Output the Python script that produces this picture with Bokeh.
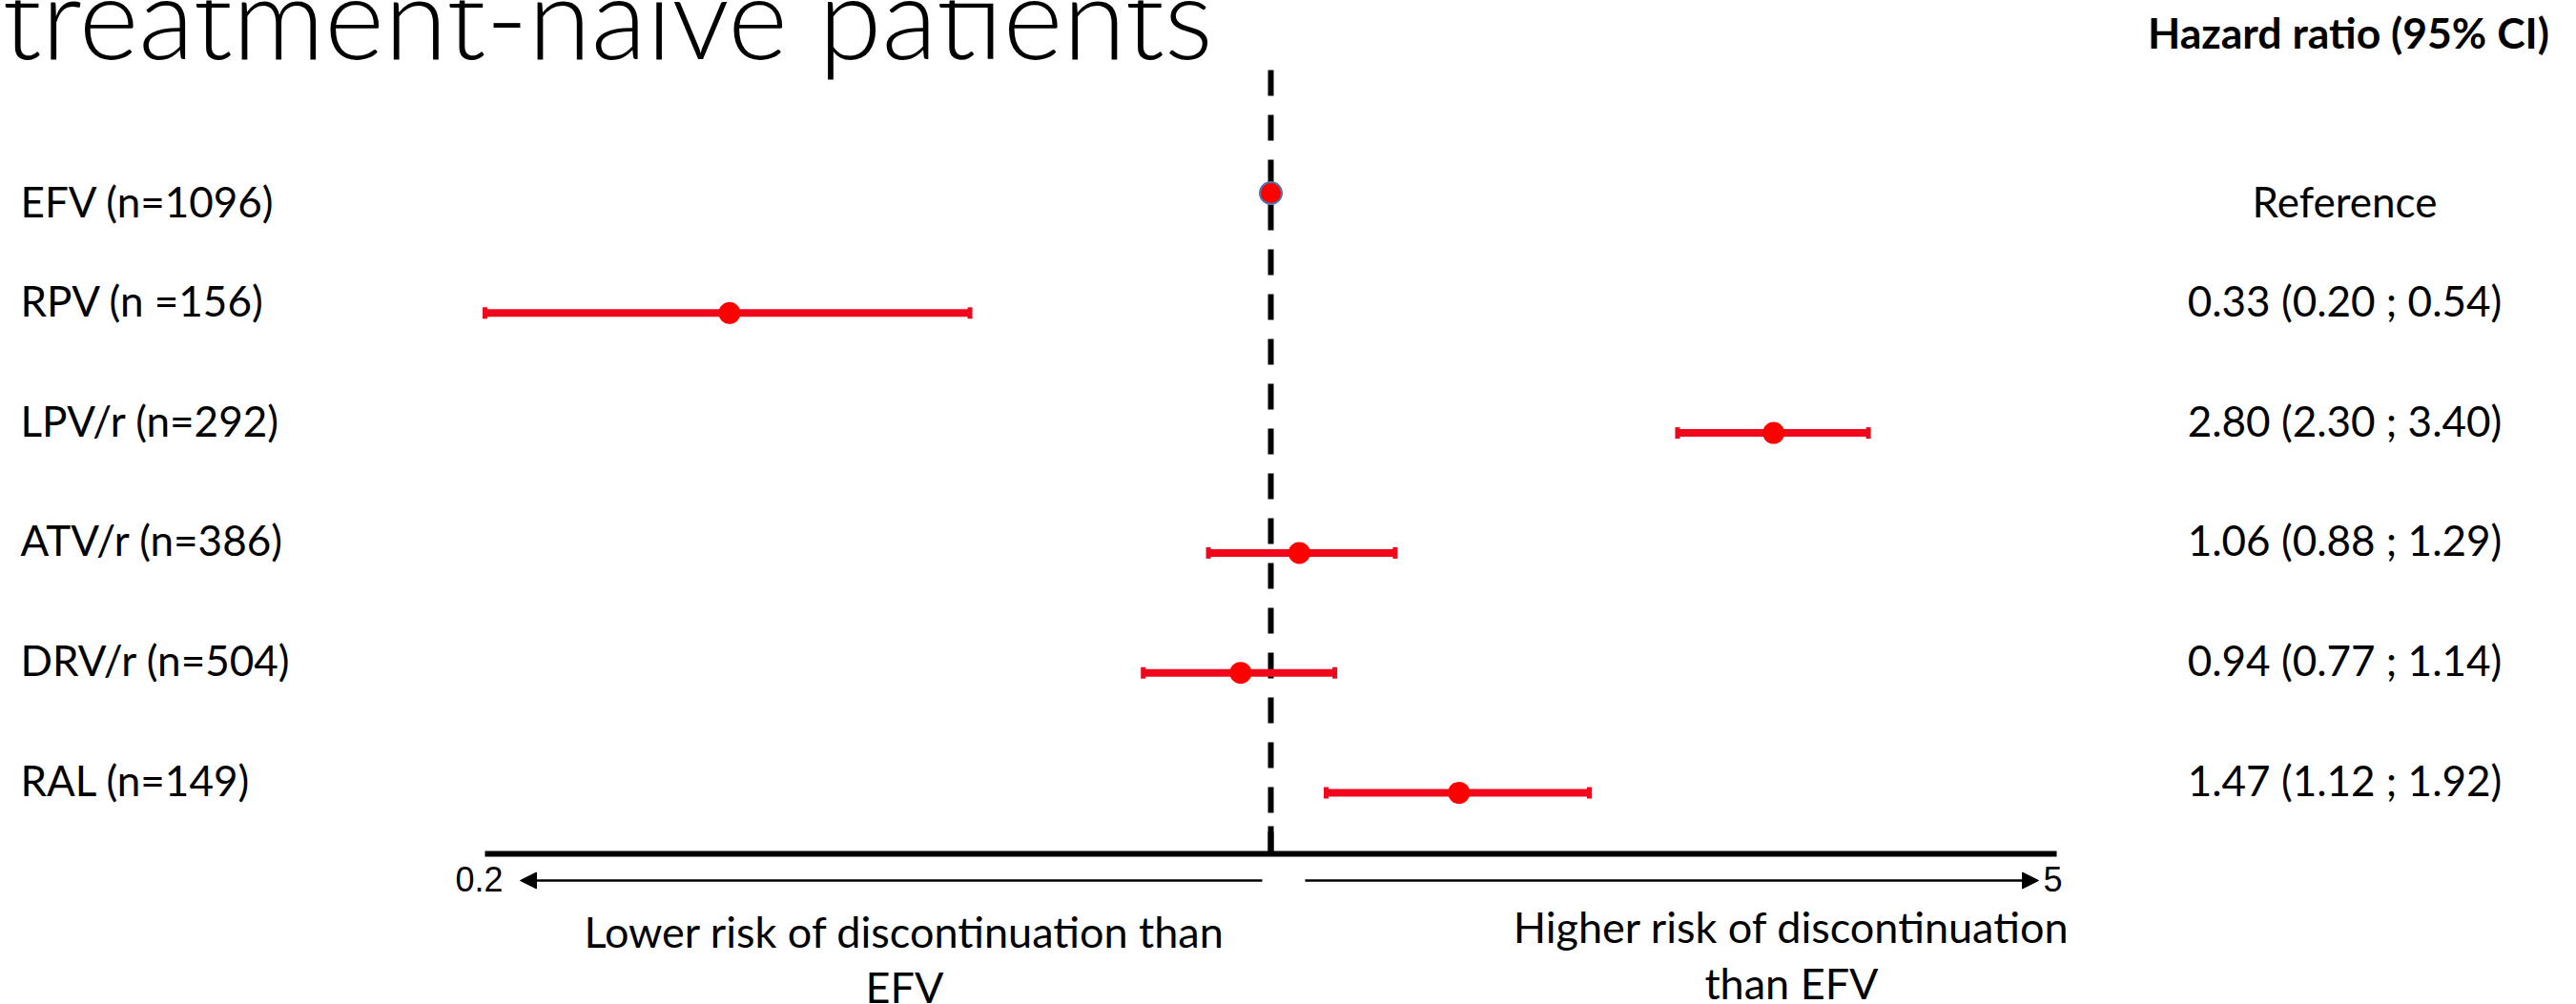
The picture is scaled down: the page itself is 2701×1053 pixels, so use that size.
import math
from bokeh.plotting import figure
from bokeh.models import Range1d, Arrow, NormalHead
from bokeh.core.properties import value
from bokeh.embed import file_html
from bokeh.resources import INLINE

# ---------------- data ----------------
labels = ["EFV (n=1096)", "RPV (n =156)", "LPV/r (n=292)", "ATV/r (n=386)", "DRV/r (n=504)", "RAL (n=149)"]
hr = [1.00, 0.33, 2.80, 1.06, 0.94, 1.47]
ci_low = [None, 0.20, 2.30, 0.88, 0.77, 1.12]
ci_high = [None, 0.54, 3.40, 1.29, 1.14, 1.92]
axis_ends = [0.2, 5]
axis_end_labels = ["0.2", "5"]
title_text = "treatment-naive patients"
header_text = "Hazard ratio (95% CI)"
lower_text = ["Lower risk of discontinuation than", "EFV"]
higher_text = ["Higher risk of discontinuation", "than EFV"]
reference_text = "Reference"

# ---------------- layout (screen pixels) ----------------
W, H = 2701, 1053
OFF = 0
AX_L, AX_R = 508, 2156          # screen x of 0.2 and 5
ROW0, ROW_STEP = 202, 125.8     # screen y of first row, spacing
TXT_SHIFT = 0.42                # empirical baseline correction (em)

LLO, LHI = math.log10(axis_ends[0]), math.log10(axis_ends[1])


def to_x(sx):
    c = sx - OFF
    return 10 ** (LLO + (c - (AX_L - OFF)) * (LHI - LLO) / (AX_R - AX_L))


def to_y(sy):
    return (sy - ROW0) / ROW_STEP


def base_y(sy, size):
    """data y for a text whose alphabetic baseline should sit at screen y sy"""
    return to_y(sy - TXT_SHIFT * size)


rows = list(range(len(labels)))

p = figure(width=W, height=H, x_axis_type="log",
           x_range=Range1d(to_x(OFF), to_x(OFF + W)),
           y_range=Range1d(to_y(OFF + H), to_y(OFF)),
           output_backend="svg", toolbar_location=None,
           x_axis_location=None, y_axis_location=None,
           min_border=0, outline_line_color=None,
           background_fill_color="white", border_fill_color="white")
p.grid.visible = False

BLACK = "#000000"
BAR_RED = "#F0071C"
DOT_RED = "#FF0000"
LABEL_FONT = value("Lato")

# reference dashed line at HR = 1
p.segment(x0=[1], y0=[to_y(73)], x1=[1], y1=[to_y(895)],
          line_width=6, line_color=BLACK, line_dash="27 20")

# confidence intervals
ci_rows = [r for r in rows if ci_low[r] is not None]
lo = [ci_low[r] for r in ci_rows]
hi = [ci_high[r] for r in ci_rows]
p.segment(x0=lo, y0=ci_rows, x1=hi, y1=ci_rows, line_width=8, line_color=BAR_RED)
p.rect(x=lo + hi, y=ci_rows + ci_rows, width=5, height=12,
       width_units="screen", height_units="screen",
       fill_color=BAR_RED, line_color=None)

# points
p.scatter(x=[hr[r] for r in ci_rows], y=ci_rows, size=23,
          fill_color=DOT_RED, line_color=None)
ref_rows = [r for r in rows if ci_low[r] is None]
p.scatter(x=[hr[r] for r in ref_rows], y=ref_rows, size=23,
          fill_color=DOT_RED, line_color="#4A78B0", line_width=2)

# axis line and centre tick
p.segment(x0=[axis_ends[0]], y0=[to_y(895)], x1=[axis_ends[1]], y1=[to_y(895)],
          line_width=6, line_color=BLACK)
p.segment(x0=[1], y0=[to_y(866)], x1=[1], y1=[to_y(895)],
          line_width=6, line_color=BLACK)

# direction arrows
p.add_layout(Arrow(end=NormalHead(size=17, fill_color=BLACK, line_color=BLACK),
                   x_start=to_x(1323), y_start=to_y(923),
                   x_end=to_x(545), y_end=to_y(923),
                   line_width=2.5, line_color=BLACK))
p.add_layout(Arrow(end=NormalHead(size=17, fill_color=BLACK, line_color=BLACK),
                   x_start=to_x(1368), y_start=to_y(923),
                   x_end=to_x(2137), y_end=to_y(923),
                   line_width=2.5, line_color=BLACK))

# axis end labels
p.text(x=[to_x(502), to_x(2152)], y=[base_y(937, 36)] * 2, text=axis_end_labels,
       text_font=value("Liberation Sans"), text_font_size="36px",
       text_align="center", text_baseline="alphabetic", text_color=BLACK)

# title (partially cut at top)
p.text(x=[to_x(2)], y=[base_y(66, 120)], text=[title_text],
       text_font=value("Lato Light"), text_font_size="120px",
       text_align="left", text_baseline="alphabetic", text_color=BLACK)

# header
p.text(x=[to_x(2462)], y=[base_y(52, 44.5)], text=[header_text],
       text_font=LABEL_FONT, text_font_style="bold", text_font_size="44.5px",
       text_align="center", text_baseline="alphabetic", text_color=BLACK)

# row labels (left) -- text boxes sit a little off the marker rows
LBL = 44
label_dy = [12 if ci_low[r] is None else -10 for r in rows]   # pixels
label_y = [r + (dy + 15 - TXT_SHIFT * LBL) / ROW_STEP for r, dy in zip(rows, label_dy)]
p.text(x=[to_x(21)] * len(rows), y=label_y, text=labels,
       text_font=LABEL_FONT, text_font_size=f"{LBL}px",
       text_align="left", text_baseline="alphabetic", text_color=BLACK)

# hazard ratio column (right)
hr_texts = [reference_text if ci_low[r] is None else
            f"{hr[r]:.2f} ({ci_low[r]:.2f} ; {ci_high[r]:.2f})" for r in rows]
p.text(x=[to_x(2458)] * len(rows), y=label_y, text=hr_texts,
       text_font=LABEL_FONT, text_font_size=f"{LBL}px",
       text_align="center", text_baseline="alphabetic", text_color=BLACK)

# bottom explanatory texts
BT = 45
p.text(x=[to_x(948), to_x(948)], y=[base_y(995, BT), base_y(1053, BT)], text=lower_text,
       text_font=LABEL_FONT, text_font_size=f"{BT}px",
       text_align="center", text_baseline="alphabetic", text_color=BLACK)
p.text(x=[to_x(1878), to_x(1878)], y=[base_y(990, BT), base_y(1049, BT)], text=higher_text,
       text_font=LABEL_FONT, text_font_size=f"{BT}px",
       text_align="center", text_baseline="alphabetic", text_color=BLACK)

open("out.html", "w").write(file_html(p, INLINE))
